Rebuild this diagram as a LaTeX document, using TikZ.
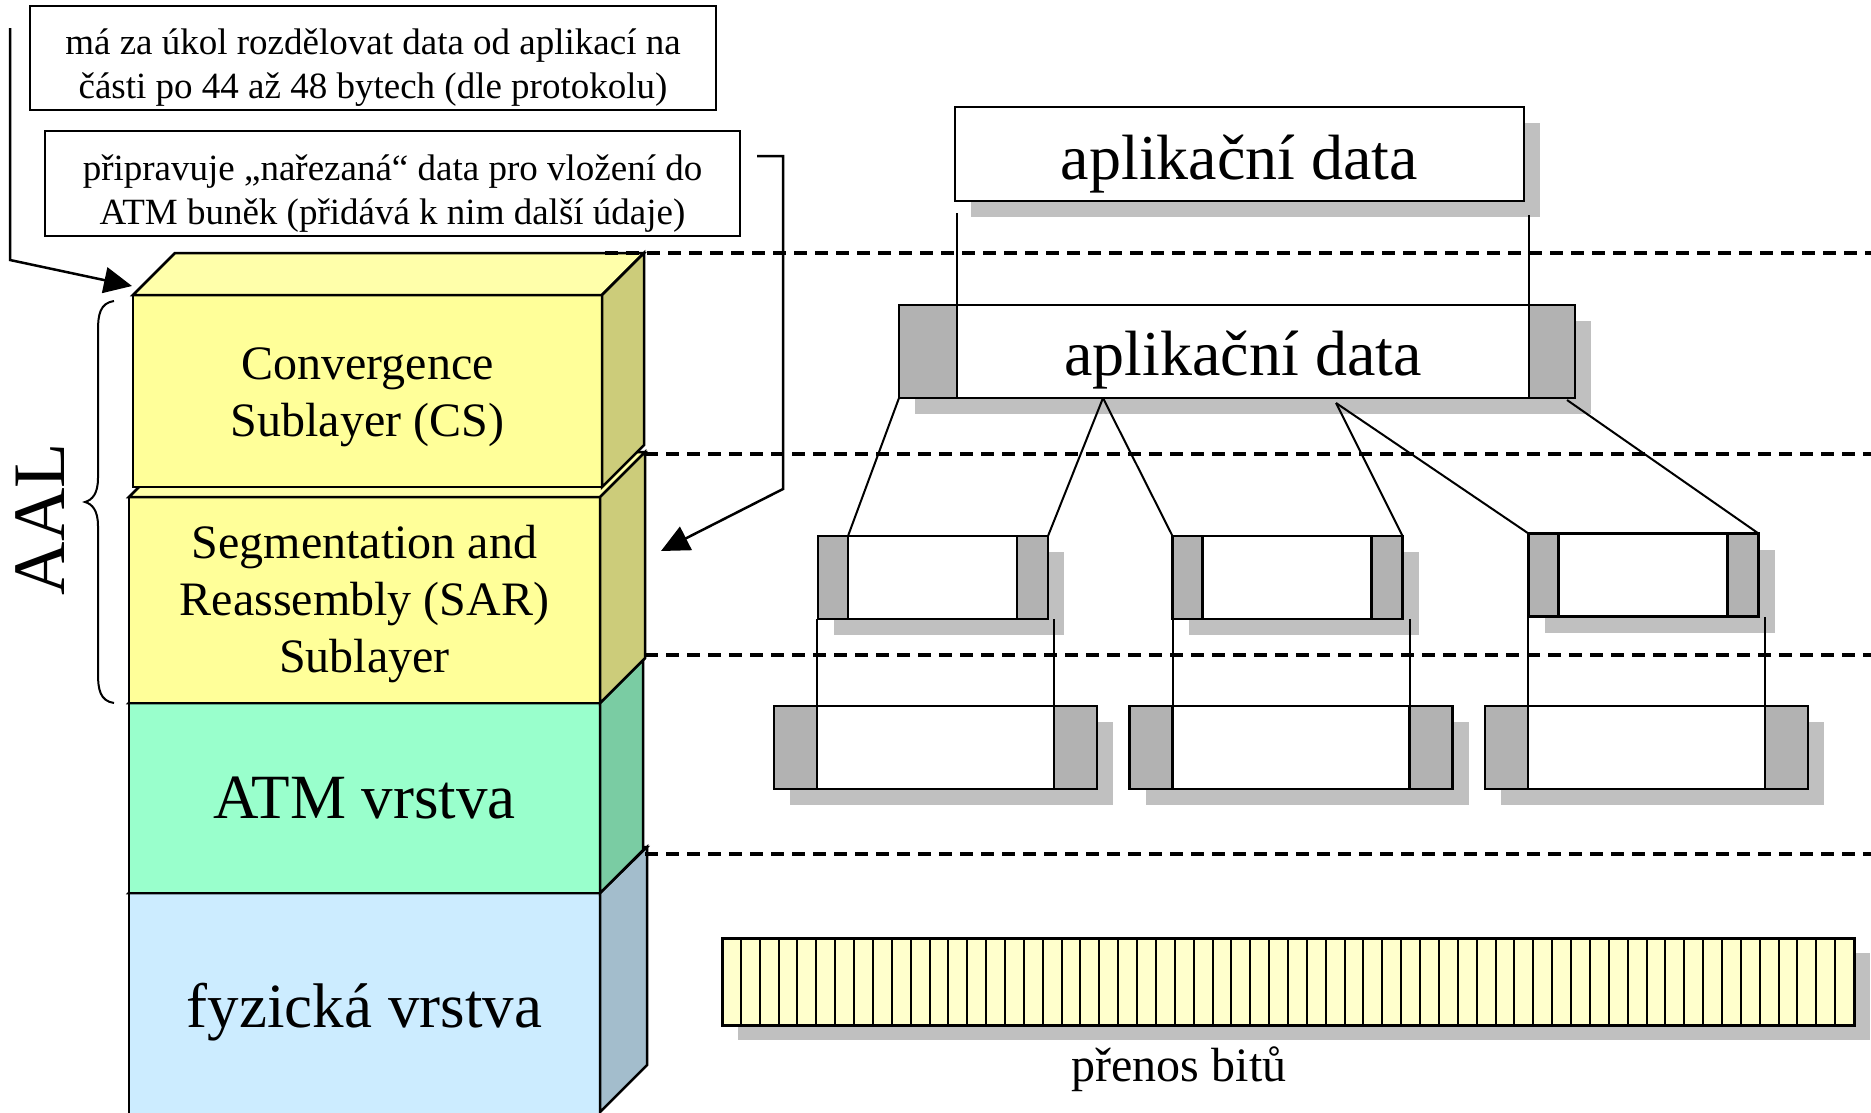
\documentclass[tikz,border=0pt]{standalone}
\usepackage{fontspec}
\setmainfont{Liberation Serif}
\usetikzlibrary{arrows.meta,positioning}

\definecolor{csfront}{RGB}{255,255,153}
\definecolor{cstop}{RGB}{255,255,170}
\definecolor{csside}{RGB}{204,204,122}
\definecolor{atmfront}{RGB}{153,255,204}
\definecolor{atmside}{RGB}{122,204,163}
\definecolor{physfront}{RGB}{204,236,255}
\definecolor{physside}{RGB}{163,189,204}
\definecolor{hdrgray}{RGB}{178,178,178}
\definecolor{shadowgray}{RGB}{192,192,192}
\definecolor{bityellow}{RGB}{255,255,204}

\newcommand\notefont{\fontsize{37}{44}\selectfont}
\newcommand\layerfont{\fontsize{48}{57}\selectfont}
\newcommand\atmfont{\fontsize{63}{70}\selectfont}
\newcommand\datafont{\fontsize{64}{70}\selectfont}
% text set lower by #1, box kept as it is
\newcommand\sunk[2]{\raisebox{-#1}[\height][\depth]{#2}}
\newcommand\lines[1]{\begin{tabular}{@{}c@{}}#1\end{tabular}}

\begin{document}
\begin{tikzpicture}[x=1pt, y=-1pt,
        notebox/.style={draw, line width=2pt, inner sep=0pt, outer sep=0pt, align=center, font=\notefont},
        layerbox/.style={draw, line width=2.5pt, inner sep=0pt, outer sep=0pt, align=center, font=\layerfont},
        sideface/.style={draw, line width=2.5pt},
        pktpart/.style={draw, line width=2.5pt, inner sep=0pt, outer sep=0pt},
        pktbody/.style={pktpart, fill=white},
        pktend/.style={pktpart, fill=hdrgray},
        wire/.style={line width=2pt},
        levelline/.style={line width=3.2pt, dash pattern=on 13pt off 8pt},
        pointer/.style={line width=2.5pt, -{Triangle[length=28pt,width=26pt]}}
    ]
    \useasboundingbox (0,0) rectangle (1871,1112);
    \clip (0,0) rectangle (1871,1112);

    % notes
    \node[notebox, minimum width=686pt, minimum height=104pt] (task) at (373,58)
        {\sunk{10pt}{\lines{má za úkol rozdělovat data od aplikací na\\části po 44 až 48 bytech (dle protokolu)}}};
    \node[notebox, minimum width=695pt, minimum height=105pt] (prep) at (392.5,183.5)
        {\sunk{10pt}{\lines{připravuje „nařezaná“ data pro vložení do\\ATM buněk (přidává k nim další údaje)}}};

    % layer stack, bottom first
    \node[layerbox, fill=physfront, minimum width=471pt, minimum height=226pt, font=\atmfont] (phys) at (364.5,1006) {\sunk{6pt}{fyzická vrstva}};
    \draw[sideface, fill=physfront] (phys.north west) -- ++(47,-46) -- ++(471,0) -- (phys.north east) -- cycle;
    \draw[sideface, fill=physside] (phys.north east) -- ++(47,-46) -- ++(0,218) -- ++(-47,47) -- cycle;

    \node[layerbox, fill=atmfront, minimum width=471pt, minimum height=190pt, font=\atmfont] (atm) at (364.5,798) {ATM vrstva};
    \draw[sideface, fill=atmfront] (atm.north west) -- ++(43,-43) -- ++(471,0) -- (atm.north east) -- cycle;
    \draw[sideface, fill=atmside] (atm.north east) -- ++(43,-43) -- ++(0,190) -- (atm.south east) -- cycle;

    \node[layerbox, fill=csfront, minimum width=471pt, minimum height=206pt] (sar) at (364.5,600)
        {\sunk{4pt}{\lines{Segmentation and\\Reassembly (SAR)\\Sublayer}}};
    \draw[sideface, fill=cstop] (sar.north west) -- ++(45,-45) -- ++(471,0) -- (sar.north east) -- cycle;
    \draw[sideface, fill=csside] (sar.north east) -- ++(45,-45) -- ++(0,206) -- (sar.south east) -- cycle;

    \node[layerbox, fill=csfront, minimum width=469pt, minimum height=192pt] (cs) at (367.5,391)
        {\sunk{6pt}{\lines{Convergence\\Sublayer (CS)}}};
    \draw[sideface, fill=cstop] (cs.north west) -- ++(42,-42) -- ++(469,0) -- (cs.north east) -- cycle;
    \draw[sideface, fill=csside] (cs.north east) -- ++(42,-42) -- ++(0,192) -- (cs.south east) -- cycle;

    % AAL brace
    \draw[line width=2pt] (114,301) .. controls (100,303) and (98,315) .. (98,330) -- (98,478)
        .. controls (98,494) and (92,500) .. (85,502) .. controls (92,504) and (98,510) .. (98,526)
        -- (98,674) .. controls (98,689) and (100,701) .. (114,703);
    \node[rotate=90, font=\fontsize{74}{80}\selectfont] (aal) at (40,519) {AAL};

    % pointers from the notes
    \coordinate (taskwire) at (10,28);
    \draw[pointer] (taskwire) -- (10,260) -- (132,286);
    \coordinate (prepwire) at (757,156);
    \draw[pointer] (prepwire) -- (783,156) -- (783,489) -- (661,551);

    % application data
    \fill[shadowgray] (971,123) rectangle (1540,217);
    \node[pktbody, minimum width=569pt, minimum height=94pt, font=\datafont] (app) at (1239.5,154) {\sunk{10pt}{aplikační data}};

    % CS frame
    \fill[shadowgray] (915,321) rectangle (1591,414);
    \node[pktbody, minimum width=572pt, minimum height=93pt, font=\datafont] (r2b) at (1243,351.5) {\sunk{9pt}{aplikační data}};
    \node[pktend, minimum width=58pt, minimum height=93pt, left=0pt of r2b] (r2h) {};
    \node[pktend, minimum width=46pt, minimum height=93pt, right=0pt of r2b] (r2t) {};
    \draw[wire] (r2b.north west) -- ++(0,-92);
    \draw[wire] (r2b.north east) -- ++(0,-90);

    % SAR segments and ATM cells
    \foreach \n/\sx/\sy/\cx in {A/932.5/577.5/935.5, B/1287/577.5/1291, C/1643/575/1646.5} {
        \fill[shadowgray] (\sx-98.5,\sy-25.5) rectangle (\sx+131.5,\sy+57.5);
        \node[pktbody, minimum width=169pt, minimum height=83pt] (seg\n) at (\sx,\sy) {};
        \node[pktend, minimum width=30pt, minimum height=83pt, left=0pt of seg\n] (seghd\n) {};
        \node[pktend, minimum width=31pt, minimum height=83pt, right=0pt of seg\n] (segtr\n) {};
        \fill[shadowgray] (\cx-145.5,722) rectangle (\cx+177.5,805);
        \node[pktbody, minimum width=237pt, minimum height=83pt] (cell\n) at (\cx,747.5) {};
        \node[pktend, minimum width=43pt, minimum height=83pt, left=0pt of cell\n] (cellhd\n) {};
        \node[pktend, minimum width=43pt, minimum height=83pt, right=0pt of cell\n] (celltr\n) {};
        \draw[wire] (cell\n.north west) -- (cell\n.north west |- seghd\n.south);
        \draw[wire] (cell\n.north east) -- (cell\n.north east |- segtr\n.south);
    }

    \coordinate (cut1) at (1103,398);
    \coordinate (cut2) at (1336,403);
    \coordinate (cut3) at (1567,400);
    \draw[wire] (r2h.south west) -- (segA.north west);
    \draw[wire] (cut1) -- (segtrA.north east);
    \draw[wire] (cut1) -- (seghdB.north west);
    \draw[wire] (cut2) -- (segtrB.north east);
    \draw[wire] (cut2) -- (seghdC.north west);
    \draw[wire] (cut3) -- (segtrC.north east);

    % bit stream
    \fill[shadowgray] (738,953) rectangle (1870,1040);
    \foreach \i in {0,...,59}
        \draw[line width=2pt, fill=bityellow] ({722+\i*18.867},938) rectangle ++(18.867,87);
    \draw[line width=3pt] (722,938) rectangle (1854,1025);
    \node[font=\layerfont] (bitlabel) at (1179,1069) {přenos bitů};

    % layer borders
    \draw[levelline] (605,253) -- (1871,253);
    \draw[levelline] (645,454) -- (1871,454);
    \draw[levelline] (645,655) -- (1871,655);
    \draw[levelline] (645,854) -- (1871,854);
\end{tikzpicture}
\end{document}
